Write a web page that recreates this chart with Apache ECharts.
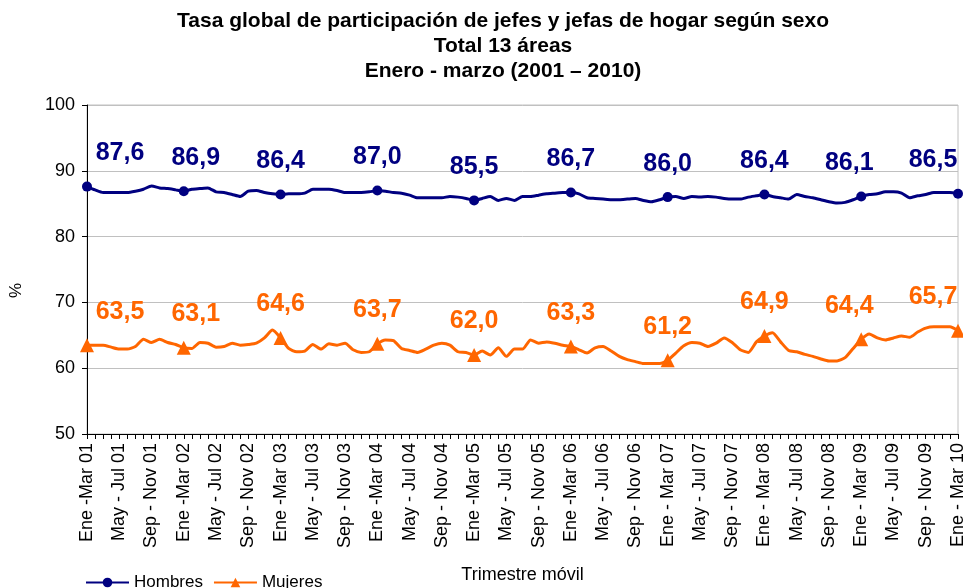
<!DOCTYPE html>
<html>
<head>
<meta charset="utf-8">
<title>Tasa global de participación</title>
<script src="https://cdn.jsdelivr.net/npm/echarts@6/dist/echarts.min.js"></script>
<style>
  html, body { margin: 0; padding: 0; background: #fff; }
  #chart { width: 963px; height: 588px; }
</style>
</head>
<body>
<div id="chart"></div>
<script>
// moving quarters, one per month, Ene-Mar 01 .. Ene-Mar 10
const periods = ['Ene - Mar', 'Feb - Abr', 'Mar - May', 'Abr - Jun', 'May - Jul', 'Jun - Ago',
  'Jul - Sep', 'Ago - Oct', 'Sep - Nov', 'Oct - Dic', 'Nov - Ene', 'Dic - Feb'];
const years = ['01', '02', '03', '04', '05', '06', '07', '08', '09', '10'];

// labels printed under every 4th quarter
const tickLabels = [
  'Ene -Mar 01', 'May - Jul 01', 'Sep - Nov 01',
  'Ene -Mar 02', 'May - Jul 02', 'Sep - Nov 02',
  'Ene -Mar 03', 'May - Jul 03', 'Sep - Nov 03',
  'Ene -Mar 04', 'May - Jul 04', 'Sep - Nov 04',
  'Ene -Mar 05', 'May - Jul 05', 'Sep - Nov 05',
  'Ene -Mar 06', 'May - Jul 06', 'Sep - Nov 06',
  'Ene - Mar 07', 'May - Jul 07', 'Sep - Nov 07',
  'Ene - Mar 08', 'May - Jul 08', 'Sep - Nov 08',
  'Ene - Mar 09', 'May - Jul 09', 'Sep - Nov 09',
  'Ene - Mar 10'
];

const hombres = [
  87.6, 87.1, 86.7, 86.7, 86.7, 86.7, 86.9, 87.2, 87.7, 87.4, 87.3, 87.1,
  86.9, 87.2, 87.3, 87.4, 86.8, 86.7, 86.4, 86.1, 86.9, 87.0, 86.7, 86.5,
  86.4, 86.5, 86.5, 86.6, 87.2, 87.2, 87.2, 87.0, 86.7, 86.7, 86.7, 86.8,
  87.0, 86.9, 86.7, 86.6, 86.3, 85.9, 85.9, 85.9, 85.9, 86.1, 86.0, 85.8,
  85.5, 85.8, 86.1, 85.5, 85.8, 85.5, 86.1, 86.1, 86.3, 86.5, 86.6, 86.7,
  86.7, 86.5, 85.9, 85.8, 85.7, 85.6, 85.6, 85.7, 85.8, 85.5, 85.3, 85.6,
  86.0, 86.1, 85.8, 86.1, 86.0, 86.1, 86.0, 85.8, 85.7, 85.7, 86.0, 86.2,
  86.4, 86.1, 85.9, 85.7, 86.4, 86.1, 85.9, 85.6, 85.3, 85.1, 85.2, 85.6,
  86.1, 86.4, 86.5, 86.8, 86.8, 86.6, 85.9, 86.2, 86.4, 86.7, 86.7, 86.7,
  86.5
];

const mujeres = [
  63.5, 63.5, 63.5, 63.2, 62.9, 62.9, 63.3, 64.4, 63.9, 64.4, 63.9, 63.6,
  63.1, 63.0, 63.9, 63.8, 63.2, 63.3, 63.8, 63.5, 63.6, 63.8, 64.6, 65.8,
  64.6, 63.0, 62.5, 62.6, 63.6, 62.9, 63.7, 63.5, 63.8, 62.8, 62.4, 62.5,
  63.7, 64.3, 64.2, 63.0, 62.7, 62.4, 62.9, 63.5, 63.8, 63.5, 62.5, 62.4,
  62.0, 62.6, 62.0, 63.1, 61.8, 62.9, 62.9, 64.3, 63.8, 64.0, 63.8, 63.5,
  63.3, 62.8, 62.3, 63.1, 63.3, 62.6, 61.8, 61.3, 61.0, 60.7, 60.7, 60.7,
  61.2, 62.3, 63.4, 63.9, 63.8, 63.3, 63.8, 64.6, 63.9, 62.8, 62.4, 64.0,
  64.9, 65.4, 64.0, 62.7, 62.5, 62.1, 61.8, 61.4, 61.1, 61.1, 61.6, 63.0,
  64.4, 65.2, 64.6, 64.3, 64.6, 64.9, 64.7, 65.5, 66.1, 66.3, 66.3, 66.3,
  65.7
];

const categories = [];
years.forEach((y, yi) => {
  periods.forEach((p, pi) => {
    if (yi < years.length - 1 || pi === 0) categories.push(p + ' ' + y);
  });
});

const FONT = 'Liberation Sans, Arial, sans-serif';

// horizontal nudges for the value labels near the plot edges
const labelShift = { 0: 33, 12: 12, 96: -12, 108: -25 };

function buildData(values) {
  return values.map((v, i) => {
    if (i % 12 !== 0) return { value: v, symbol: 'none' };
    return {
      value: v,
      label: { show: true, offset: [labelShift[i] || 0, 0] }
    };
  });
}

const chart = echarts.init(document.getElementById('chart'));

chart.setOption({
  backgroundColor: '#fff',
  animation: false,
  title: {
    text: 'Tasa global de participación de jefes y jefas de hogar según sexo\nTotal 13 áreas\nEnero - marzo (2001 – 2010)',
    left: 498,
    textAlign: 'center',
    top: 4,
    textStyle: {
      fontFamily: FONT,
      fontSize: 21,
      fontWeight: 'bold',
      color: '#000',
      lineHeight: 25
    }
  },
  legend: {
    left: 80,
    top: 569,
    itemWidth: 43,
    itemHeight: 12,
    itemGap: 10,
    textStyle: { fontFamily: FONT, fontSize: 17, color: '#000' },
    data: ['Hombres', 'Mujeres']
  },
  grid: {
    left: 87,
    right: 5,
    top: 105,
    bottom: 154,
    outerBoundsMode: 'none',
    containLabel: false,
    show: true,
    borderColor: '#c0c0c0',
    borderWidth: 1
  },
  xAxis: {
    type: 'category',
    data: categories,
    boundaryGap: false,
    name: 'Trimestre móvil',
    nameLocation: 'middle',
    nameGap: 132,
    nameTextStyle: { fontFamily: FONT, fontSize: 18, color: '#000' },
    axisLine: { lineStyle: { color: '#000', width: 1 } },
    axisTick: { interval: 0, length: 5, lineStyle: { color: '#000' } },
    axisLabel: {
      interval: 3,
      rotate: 90,
      margin: 9,
      fontFamily: FONT,
      fontSize: 18,
      color: '#000',
      formatter: (value, index) => tickLabels[index / 4] || ''
    },
    splitLine: { show: false }
  },
  yAxis: {
    type: 'value',
    min: 50,
    max: 100,
    interval: 10,
    name: '%',
    nameLocation: 'middle',
    nameRotate: 90,
    nameGap: 62,
    nameTextStyle: { fontFamily: FONT, fontSize: 17, color: '#000', padding: [0, 42, 0, 0] },
    axisLine: { show: true, lineStyle: { color: '#000', width: 1 } },
    axisTick: { show: true, length: 5, lineStyle: { color: '#000' } },
    axisLabel: { fontFamily: FONT, fontSize: 18, color: '#000', margin: 12 },
    splitLine: { lineStyle: { color: '#c0c0c0', width: 1 } }
  },
  series: [
    {
      name: 'Hombres',
      type: 'line',
      data: buildData(hombres),
      symbol: 'circle',
      symbolSize: 10,
      showAllSymbol: true,
      smooth: 0.2,
      lineStyle: { color: '#000080', width: 3 },
      itemStyle: { color: '#000080' },
      label: {
        show: false,
        position: 'top',
        distance: 16,
        fontFamily: FONT,
        fontSize: 25,
        fontWeight: 'bold',
        color: '#000080',
        formatter: (p) => p.value.toFixed(1).replace('.', ',')
      }
    },
    {
      name: 'Mujeres',
      type: 'line',
      data: buildData(mujeres),
      symbol: 'triangle',
      symbolSize: 14,
      showAllSymbol: true,
      smooth: 0.2,
      lineStyle: { color: '#ff6600', width: 3 },
      itemStyle: { color: '#ff6600' },
      label: {
        show: false,
        position: 'top',
        distance: 14,
        fontFamily: FONT,
        fontSize: 25,
        fontWeight: 'bold',
        color: '#ff6600',
        formatter: (p) => p.value.toFixed(1).replace('.', ',')
      }
    }
  ]
});
</script>
</body>
</html>
